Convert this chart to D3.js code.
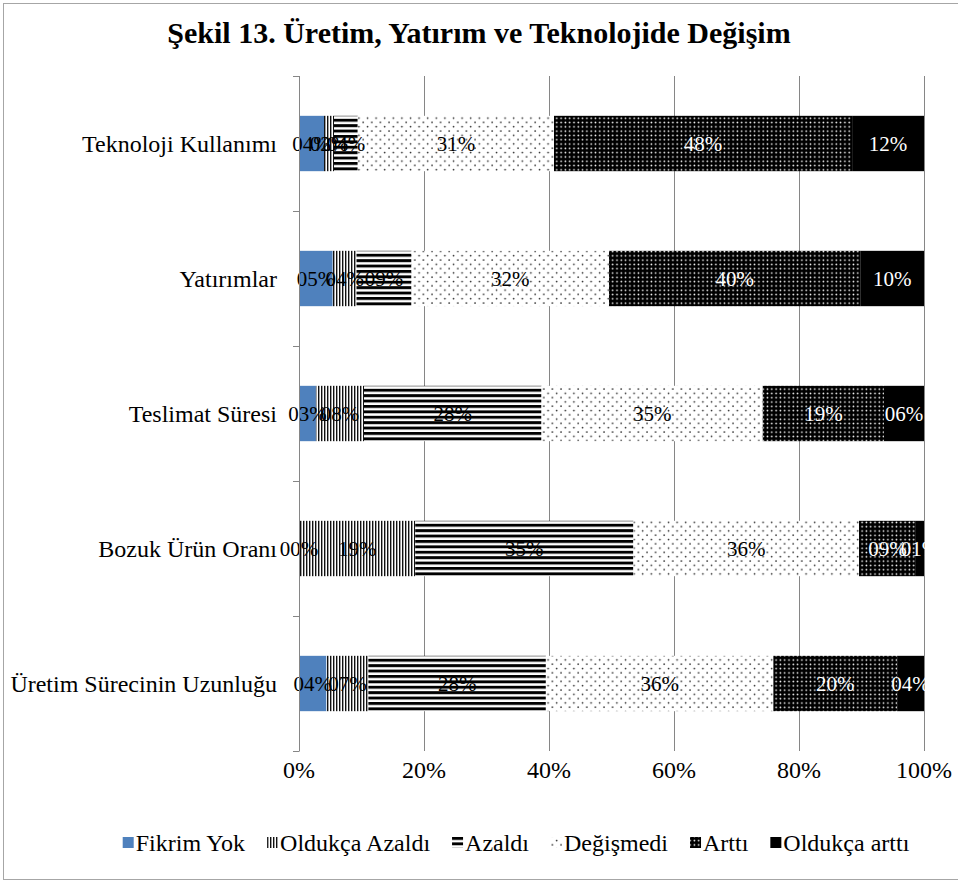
<!DOCTYPE html>
<html><head><meta charset="utf-8">
<script src="https://cdn.jsdelivr.net/npm/d3@7"></script>
<style>body{margin:0;background:#fff} svg{display:block} text{font-family:"Liberation Serif","Times New Roman",serif}</style>
</head><body><svg id="c" width="958" height="881"></svg>
<script>
const categories = ["Teknoloji Kullanımı","Yatırımlar","Teslimat Süresi","Bozuk Ürün Oranı","Üretim Sürecinin Uzunluğu"];
const seriesNames = ["Fikrim Yok","Oldukça Azaldı","Azaldı","Değişmedi","Arttı","Oldukça arttı"];
const fikrimYok     = [4.0, 5.4, 2.7, 0.0, 4.4];
const oldukcaAzaldi = [1.6, 3.8, 7.7, 18.6, 6.7];
const azaldi        = [3.8, 8.8, 28.4, 34.9, 28.4];
const degismedi     = [31.4, 31.6, 35.4, 36.1, 36.4];
const artti         = [47.7, 40.2, 19.4, 9.1, 19.8];
const oldukcaArtti  = [11.5, 10.2, 6.4, 1.3, 4.3];
const xTicks = [0, 20, 40, 60, 80, 100];
const title = "Şekil 13. Üretim, Yatırım ve Teknolojide Değişim";

const seriesValues = [fikrimYok, oldukcaAzaldi, azaldi, degismedi, artti, oldukcaArtti];
const rows = categories.map((c, i) => {
  const r = {cat: c};
  seriesNames.forEach((s, j) => r[s] = seriesValues[j][i]);
  return r;
});

const svg = d3.select("#c");
const defs = svg.append("defs");
function pat(id, w, h, build) {
  const p = defs.append("pattern").attr("id", id).attr("patternUnits", "userSpaceOnUse")
    .attr("width", w).attr("height", h);
  build(p);
}
pat("pVert", 3, 3, p => {
  p.append("rect").attr("width", 3).attr("height", 3).attr("fill", "#fff");
  p.append("rect").attr("width", 1.4).attr("height", 3).attr("fill", "#111");
});
pat("pHoriz", 6, 5.4, p => {
  p.append("rect").attr("width", 6).attr("height", 5.4).attr("fill", "#fff");
  p.append("rect").attr("width", 6).attr("height", 2.9).attr("fill", "#000");
});
pat("pDotSparse", 8.6, 8.6, p => {
  p.append("rect").attr("width", 8.6).attr("height", 8.6).attr("fill", "#fff");
  p.append("circle").attr("cx", 2).attr("cy", 2).attr("r", 0.85).attr("fill", "#222");
  p.append("circle").attr("cx", 6.3).attr("cy", 6.3).attr("r", 0.85).attr("fill", "#222");
});
pat("pDotDark", 4.3, 4.3, p => {
  p.append("rect").attr("width", 4.3).attr("height", 4.3).attr("fill", "#000");
  p.append("circle").attr("cx", 2.1).attr("cy", 2.1).attr("r", 0.85).attr("fill", "#fff");
});
const fills = ["#4F81BD", "url(#pVert)", "url(#pHoriz)", "url(#pDotSparse)", "url(#pDotDark)", "#000"];
const labelColors = ["#000", "#000", "#000", "#000", "#fff", "#fff"];

// border
svg.append("rect").attr("x", 3.5).attr("y", 3.5).attr("width", 962).attr("height", 876)
  .attr("fill", "none").attr("stroke", "#a6a6a6").attr("stroke-width", 1);

// title
svg.append("text").attr("x", 479).attr("y", 43).attr("text-anchor", "middle")
  .attr("font-size", 30).attr("font-weight", "bold").text(title);

const x = d3.scaleLinear().domain([0, 100]).range([299, 924]);
const y = d3.scaleBand().domain(categories).range([76, 751]).paddingInner(0.59).paddingOuter(0.295);

// gridlines
svg.append("g").selectAll("line").data(xTicks.slice(1)).join("line")
  .attr("x1", d => x(d) + 0.5).attr("x2", d => x(d) + 0.5)
  .attr("y1", 76).attr("y2", 751).attr("stroke", "#868686").attr("stroke-width", 1);

// bars
const stack = d3.stack().keys(seriesNames)(rows);
const g = svg.append("g");
stack.forEach((layer, j) => {
  g.append("g").selectAll("rect").data(layer).join("rect")
    .attr("x", d => x(d[0])).attr("width", d => x(d[1]) - x(d[0]))
    .attr("y", d => y(d.data.cat)).attr("height", y.bandwidth())
    .attr("fill", fills[j]);
});
const fmt = v => String(Math.round(v)).padStart(2, "0") + "%";
stack.forEach((layer, j) => {
  g.append("g").selectAll("text").data(layer).join("text")
    .attr("x", d => (x(d[0]) + x(d[1])) / 2)
    .attr("y", d => y(d.data.cat) + y.bandwidth() / 2 + 7)
    .attr("text-anchor", "middle").attr("font-size", 21).attr("fill", labelColors[j])
    .text(d => fmt(d[1] - d[0]));
});

// y axis
svg.append("line").attr("x1", 299.5).attr("x2", 299.5).attr("y1", 76).attr("y2", 751)
  .attr("stroke", "#868686").attr("stroke-width", 1);
const bounds = d3.range(categories.length + 1).map(i => 76 + i * y.step());
svg.append("g").selectAll("line").data(bounds).join("line")
  .attr("x1", 293).attr("x2", 299.5).attr("y1", d => Math.round(d) + 0.5).attr("y2", d => Math.round(d) + 0.5)
  .attr("stroke", "#868686");
svg.append("g").selectAll("text").data(categories).join("text")
  .attr("x", 277).attr("y", d => y(d) + y.bandwidth() / 2 + 8)
  .attr("text-anchor", "end").attr("font-size", 24).text(d => d);

// x tick labels
svg.append("g").selectAll("text").data(xTicks).join("text")
  .attr("x", d => x(d)).attr("y", 778).attr("text-anchor", "middle")
  .attr("font-size", 24).text(d => d + "%");

// legend
const lg = svg.append("g");
let items = seriesNames.map((s, j) => {
  const t = lg.append("text").attr("y", 851).attr("font-size", 24).text(s);
  return {t, w: t.node().getComputedTextLength(), j};
});
const mk = 11, gap1 = 2, gap2 = 22;
const total = d3.sum(items, d => mk + gap1 + d.w) + gap2 * (items.length - 1);
let cx = 516 - total / 2;
items.forEach(d => {
  lg.append("rect").attr("x", cx).attr("y", 837).attr("width", mk).attr("height", mk).attr("fill", fills[d.j]);
  d.t.attr("x", cx + mk + gap1);
  cx += mk + gap1 + d.w + gap2;
});
</script></body></html>
